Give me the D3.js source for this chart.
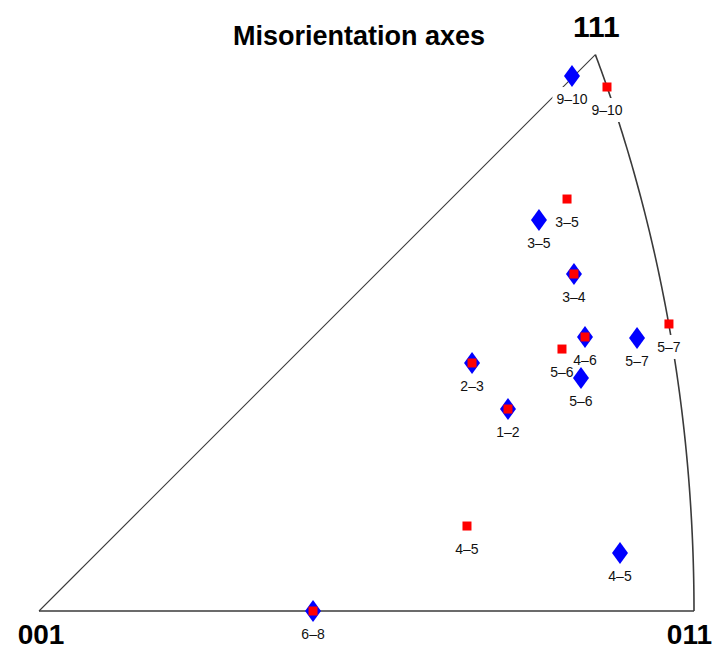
<!DOCTYPE html>
<html>
<head>
<meta charset="utf-8">
<script src="https://cdn.jsdelivr.net/npm/d3@7"></script>
<style>
  html, body { margin: 0; padding: 0; background: #fff; }
  svg { display: block; }
  text { font-family: "Liberation Sans", Arial, Helvetica, sans-serif; }
</style>
</head>
<body>
<svg id="chart" width="713" height="650"></svg>
<script>
// ---------- data ----------
const title = "Misorientation axes";
const vertexLabels = ["001", "011", "111"];
const vertexDirs = [[0, 0, 1], [0, 1, 1], [1, 1, 1]];

// misorientation pairs (labels)
const pairs = ["9–10", "3–5", "3–4", "4–6", "5–7", "5–6", "2–3", "1–2", "4–5", "6–8"];

// equal-area projected coordinates (X toward 011, Y toward 111 side)
const blueX = [0.6228, 0.5842, 0.6251, 0.6380, 0.6988, 0.6333, 0.5060, 0.5480, 0.6789, 0.3202];
const blueY = [0.6251, 0.4569, 0.3938, 0.3202, 0.3190, 0.2723, 0.2898, 0.2360, 0.0678, 0.0000];
const redX  = [0.6637, 0.6170, 0.6251, 0.6380, 0.7361, 0.6111, 0.5060, 0.5480, 0.5001, 0.3202];
const redY  = [0.6123, 0.4814, 0.3938, 0.3202, 0.3354, 0.3061, 0.2898, 0.2360, 0.0993, 0.0000];

// ---------- helpers ----------
function project(v) {
  const n = Math.hypot(v[0], v[1], v[2]);
  const a = v[0] / n, b = v[1] / n, c = v[2] / n;
  const f = Math.sqrt(2 / (1 + c));
  return [f * b, f * a];
}

const svg = d3.select("#chart");
const extent = project([0, 1, 1])[0];
const x = d3.scaleLinear().domain([0, extent]).range([39, 694]);
const y = d3.scaleLinear().domain([0, extent]).range([611, 611 - 655]);

const verts = vertexDirs.map(project);

// ---------- edges ----------
const edgeColor = "#3a3a3a";
const line = d3.line().x(d => x(d[0])).y(d => y(d[1]));
svg.append("path").attr("d", line([verts[0], verts[2]]))
  .attr("fill", "none").attr("stroke", edgeColor).attr("stroke-width", 1.1);
svg.append("path").attr("d", line([verts[0], verts[1]]))
  .attr("fill", "none").attr("stroke", edgeColor).attr("stroke-width", 1.6);
const arcPts = d3.range(0, 1.0001, 0.01).map(t => project([t, 1, 1]));
svg.append("path").attr("d", line(arcPts))
  .attr("fill", "none").attr("stroke", edgeColor).attr("stroke-width", 1.6);

// ---------- labels ----------
const labelData = [];
pairs.forEach((p, i) => {
  labelData.push({ text: p, X: blueX[i], Y: blueY[i] });
  if (redX[i] !== blueX[i] || redY[i] !== blueY[i]) {
    labelData.push({ text: p, X: redX[i], Y: redY[i] });
  }
});

const bgG = svg.append("g");
const txG = svg.append("g");
labelData.forEach(d => {
  const t = txG.append("text")
    .attr("x", x(d.X)).attr("y", y(d.Y) + 28)
    .attr("text-anchor", "middle")
    .attr("font-size", 14).attr("fill", "#111")
    .text(d.text);
  const bb = t.node().getBBox();
  bgG.append("rect")
    .attr("x", bb.x - 4).attr("y", bb.y - 4)
    .attr("width", bb.width + 8).attr("height", bb.height + 8)
    .attr("fill", "#fff");
});

// ---------- markers ----------
const dw = 8, dh = 11;
svg.append("g").selectAll("path").data(pairs).join("path")
  .attr("d", (p, i) => {
    const cx = x(blueX[i]), cy = y(blueY[i]);
    return `M${cx},${cy - dh}L${cx + dw},${cy}L${cx},${cy + dh}L${cx - dw},${cy}Z`;
  })
  .attr("fill", "#0000ff");

const sq = 9;
svg.append("g").selectAll("rect").data(pairs).join("rect")
  .attr("x", (p, i) => x(redX[i]) - sq / 2)
  .attr("y", (p, i) => y(redY[i]) - sq / 2)
  .attr("width", sq).attr("height", sq)
  .attr("fill", "#ff0000");

// ---------- vertex labels & title ----------
svg.append("text").attr("x", x(verts[0][0]) + 2).attr("y", y(verts[0][1]) + 33)
  .attr("text-anchor", "middle").attr("font-size", 28).attr("font-weight", "bold")
  .text(vertexLabels[0]);
svg.append("text").attr("x", x(verts[1][0]) + 18).attr("y", y(verts[1][1]) + 33)
  .attr("text-anchor", "end").attr("font-size", 28).attr("font-weight", "bold")
  .text(vertexLabels[1]);
svg.append("text").attr("x", x(verts[2][0]) + 1).attr("y", y(verts[2][1]) - 18)
  .attr("text-anchor", "middle").attr("font-size", 30).attr("font-weight", "bold")
  .text(vertexLabels[2]);

svg.append("text").attr("x", 359).attr("y", 45)
  .attr("text-anchor", "middle").attr("font-size", 27).attr("font-weight", "bold")
  .text(title);
</script>
</body>
</html>
